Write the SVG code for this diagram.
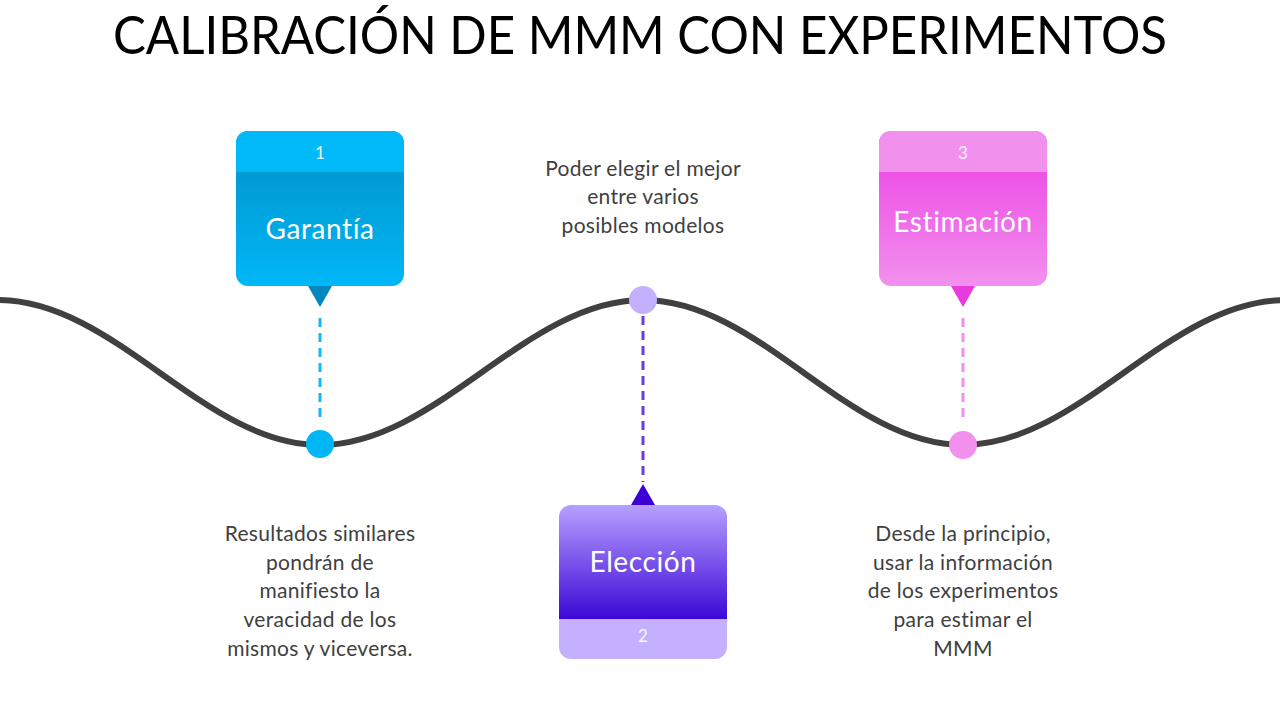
<svg xmlns="http://www.w3.org/2000/svg" width="1280" height="720" viewBox="0 0 1280 720">
<defs>
<linearGradient id="gBlue" x1="0" y1="0" x2="0" y2="1"><stop offset="0" stop-color="#0091C6"/><stop offset="1" stop-color="#00B7F7"/></linearGradient>
<linearGradient id="gPurple" x1="0" y1="0" x2="0" y2="1"><stop offset="0" stop-color="#B7A0FF"/><stop offset="1" stop-color="#3A06D6"/></linearGradient>
<linearGradient id="gPink" x1="0" y1="0" x2="0" y2="1"><stop offset="0" stop-color="#EB3DE2"/><stop offset="1" stop-color="#F290EE"/></linearGradient>
<clipPath id="c1"><rect x="236" y="131" width="168" height="155" rx="12"/></clipPath>
<clipPath id="c2"><rect x="559" y="505" width="168" height="154" rx="12"/></clipPath>
<clipPath id="c3"><rect x="879" y="131" width="168" height="155" rx="12"/></clipPath>
</defs>
<style>
.title{font-family:Lato,"Liberation Sans",sans-serif;font-size:52px;fill:#000;}
.body{font-family:Lato,"Liberation Sans",sans-serif;font-size:21px;letter-spacing:0.3px;fill:#404040;text-anchor:middle;}
.lbl{font-family:Lato,"Liberation Sans",sans-serif;font-size:28px;letter-spacing:0.6px;fill:#fff;text-anchor:middle;}
.num{font-family:Lato,"Liberation Sans",sans-serif;font-size:17px;fill:#fff;text-anchor:middle;opacity:0.9;}
.dash{stroke-width:3;stroke-dasharray:9 6;fill:none;}
</style>
<rect width="1280" height="720" fill="#fff"/>
<text class="title" x="113" y="54" textLength="1054" lengthAdjust="spacingAndGlyphs">CALIBRACIÓN DE MMM CON EXPERIMENTOS</text>

<g id="connectors">
<path d="M -2,300 C 115,300 204,445 320,445 C 437,445 526,300 643,300 C 760,300 847,445 963,445 C 1080,445 1168,300 1286,300" fill="none" stroke="#404040" stroke-width="6"/>
<line class="dash" x1="320" y1="318" x2="320" y2="420" stroke="#1AB6EF"/>
<line class="dash" x1="643" y1="316" x2="643" y2="482" stroke="#6A3AE6"/>
<line class="dash" x1="963" y1="318" x2="963" y2="420" stroke="#F090E8"/>
</g>

<g id="node1">
<g clip-path="url(#c1)">
<rect x="236" y="131" width="168" height="155" fill="url(#gBlue)"/>
<rect x="236" y="131" width="168" height="41" fill="#00B9F8"/>
</g>
<polygon points="308,286 332,286 320,307" fill="#0088BF"/>
<text class="num" x="320" y="159">1</text>
<text class="lbl" x="320" y="239">Garantía</text>
<circle cx="320" cy="444" r="14" fill="#00B6F5"/>
<text class="body"><tspan x="320" y="541">Resultados similares</tspan><tspan x="320" y="570">pondrán de</tspan><tspan x="320" y="598">manifiesto la</tspan><tspan x="320" y="627">veracidad de los</tspan><tspan x="320" y="656">mismos y viceversa.</tspan></text>
</g>

<g id="node2">
<circle cx="643" cy="300" r="14" fill="#C4B0FF"/>
<polygon points="643,484 631,505 655,505" fill="#3A00D6"/>
<g clip-path="url(#c2)">
<rect x="559" y="505" width="168" height="115" fill="url(#gPurple)"/>
<rect x="559" y="619" width="168" height="40" fill="#C4B0FF"/>
</g>
<text class="lbl" x="643" y="572">Elección</text>
<text class="num" x="643" y="642">2</text>
<text class="body"><tspan x="643" y="176">Poder elegir el mejor</tspan><tspan x="643" y="204">entre varios</tspan><tspan x="643" y="233">posibles modelos</tspan></text>
</g>

<g id="node3">
<g clip-path="url(#c3)">
<rect x="879" y="131" width="168" height="155" fill="url(#gPink)"/>
<rect x="879" y="131" width="168" height="41" fill="#F290EE"/>
</g>
<polygon points="951,286 975,286 963,307" fill="#E83ADF"/>
<text class="num" x="963" y="159">3</text>
<text class="lbl" x="963" y="232">Estimación</text>
<circle cx="963" cy="445" r="14" fill="#F290EE"/>
<text class="body"><tspan x="963" y="541">Desde la principio,</tspan><tspan x="963" y="570">usar la información</tspan><tspan x="963" y="598">de los experimentos</tspan><tspan x="963" y="627">para estimar el</tspan><tspan x="963" y="656">MMM</tspan></text>
</g>
</svg>
